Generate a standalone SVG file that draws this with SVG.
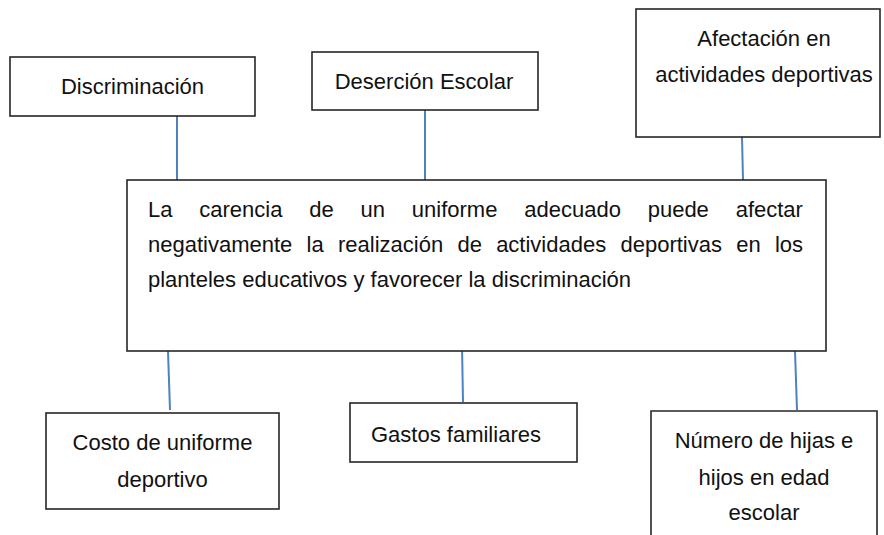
<svg xmlns="http://www.w3.org/2000/svg" width="884" height="535" viewBox="0 0 884 535">
<style>
.box{fill:#ffffff;stroke:#262626;stroke-width:1.6}
.t{font-family:"Liberation Sans",Arial,sans-serif;font-size:22px;fill:#111111}
.c{text-anchor:middle}
.ln{stroke:#4f81bd;stroke-width:2;fill:none}
</style>
<rect width="884" height="535" fill="#ffffff"/>
<g id="connectors">
<line class="ln" x1="177" y1="116" x2="177" y2="185"/>
<line class="ln" x1="425" y1="110" x2="425" y2="180"/>
<line class="ln" x1="742" y1="137" x2="743" y2="180"/>
<line class="ln" x1="168" y1="351" x2="170" y2="410"/>
<line class="ln" x1="462" y1="345" x2="463" y2="402"/>
<line class="ln" x1="795" y1="351" x2="797" y2="410"/>
</g>
<g id="discriminacion">
<rect class="box" x="10" y="57" width="245" height="59"/>
<text class="t c" x="132.5" y="94">Discriminación</text>
</g>
<g id="desercion">
<rect class="box" x="312" y="52" width="226" height="58"/>
<text class="t c" x="424" y="89">Deserción Escolar</text>
</g>
<g id="afectacion">
<rect class="box" x="636" y="9" width="244" height="128"/>
<text class="t c" x="764" y="46">Afectación en</text>
<text class="t c" x="764" y="82">actividades deportivas</text>
</g>
<g id="central">
<rect class="box" x="127" y="180" width="699" height="171"/>
<text class="t" x="148" y="217" style="word-spacing:20.7px">La carencia de un uniforme adecuado puede afectar</text>
<text class="t" x="148" y="252" style="word-spacing:8.15px">negativamente la realización de actividades deportivas en los</text>
<text class="t" x="148" y="287">planteles educativos y favorecer la discriminación</text>
</g>
<g id="costo">
<rect class="box" x="46" y="413" width="233" height="96"/>
<text class="t c" x="162.5" y="450">Costo de uniforme</text>
<text class="t c" x="162.5" y="487">deportivo</text>
</g>
<g id="gastos">
<rect class="box" x="350" y="403" width="227" height="59"/>
<text class="t" x="371" y="442">Gastos familiares</text>
</g>
<g id="numero">
<path class="box" d="M651,540 V411 H877 V540"/>
<text class="t c" x="764" y="448">Número de hijas e</text>
<text class="t c" x="764" y="485">hijos en edad</text>
<text class="t c" x="764" y="520">escolar</text>
</g>
</svg>
